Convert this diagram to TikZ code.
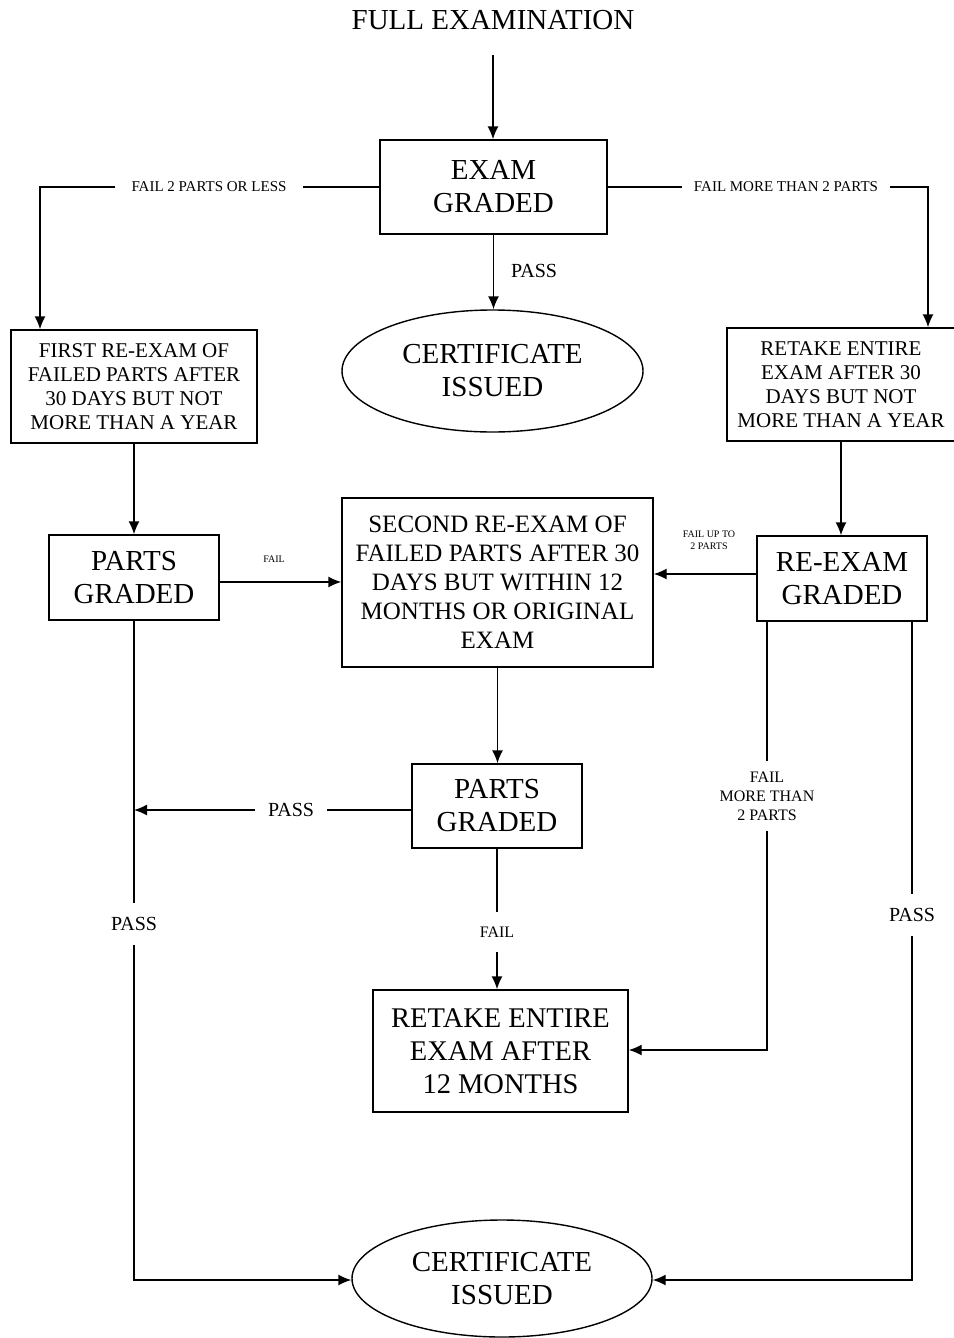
\documentclass[tikz,border=0pt]{standalone}
\usepackage{fontspec}
\setmainfont{Liberation Serif}
\usetikzlibrary{shapes.geometric,arrows.meta}
\newcommand\fsz[2]{\fontsize{#1}{#2}\selectfont}
\begin{document}
\begin{tikzpicture}[x=1pt,y=-1pt,
 box/.style={draw,line width=1.4pt,align=center,inner sep=0pt},
 ell/.style={draw,ellipse,line width=1.4pt,align=center,inner sep=0pt},
 ln/.style={line width=1.4pt},
 arr/.style={line width=1.4pt,-{Latex[length=13pt,width=11pt]}},
 lab/.style={align=center,inner sep=0pt},
 big/.style={font=\fsz{29}{33}}]
\useasboundingbox (0,0) rectangle (953,1338);

% nodes
\node[lab,font=\fsz{29}{32}] (full) at (493,20) {FULL EXAMINATION};
\node[box,big,minimum width=227pt,minimum height=94pt] (exam) at (493.5,187) {EXAM\\GRADED};
\node[ell,big,minimum width=301pt,minimum height=122pt] (cert1) at (492.5,371) {CERTIFICATE\\ISSUED};
\node[box,font=\fsz{21}{24},minimum width=246pt,minimum height=113pt] (first) at (134,386.5) {FIRST RE-EXAM OF\\FAILED PARTS AFTER\\30 DAYS BUT NOT\\MORE THAN A YEAR};
\node[box,font=\fsz{21}{24},minimum width=228pt,minimum height=113pt] (retake1) at (841,384.5) {RETAKE ENTIRE\\EXAM AFTER 30\\DAYS BUT NOT\\MORE THAN A YEAR};
\node[box,big,minimum width=170pt,minimum height=85pt] (pg1) at (134,577.5) {PARTS\\GRADED};
\node[box,font=\fsz{25}{29},minimum width=311pt,minimum height=169pt] (second) at (497.5,582.5) {SECOND RE-EXAM OF\\FAILED PARTS AFTER 30\\DAYS BUT WITHIN 12\\MONTHS OR ORIGINAL\\EXAM};
\node[box,big,minimum width=170pt,minimum height=85pt] (reg) at (842,578.5) {RE-EXAM\\GRADED};
\node[box,big,minimum width=170pt,minimum height=84pt] (pg2) at (497,806) {PARTS\\GRADED};
\node[box,font=\fsz{28.5}{33},minimum width=255pt,minimum height=122pt] (retake2) at (500.5,1051) {RETAKE ENTIRE\\EXAM AFTER\\12 MONTHS};
\node[ell,big,minimum width=300pt,minimum height=117pt] (cert2) at (502,1278.5) {CERTIFICATE\\ISSUED};

% labels
\node[lab,font=\fsz{15}{18},inner xsep=16pt] (l1) at (209,187) {FAIL 2 PARTS OR LESS};
\node[lab,font=\fsz{15}{18},inner xsep=12pt] (l2) at (786,187) {FAIL MORE THAN 2 PARTS};
\node[lab,font=\fsz{20}{24}] (l3) at (534,271) {PASS};
\node[lab,font=\fsz{10}{12}] (l4) at (274,559) {FAIL};
\node[lab,font=\fsz{10}{12}] (l5) at (709,540) {FAIL UP TO\\2 PARTS};
\node[lab,font=\fsz{20}{24},inner xsep=13pt] (l6) at (291,810) {PASS};
\node[lab,font=\fsz{20}{24},inner ysep=14pt] (l7) at (134,924) {PASS};
\node[lab,font=\fsz{16}{19},inner ysep=15pt] (l8) at (497,932) {FAIL};
\node[lab,font=\fsz{16}{19},inner ysep=10pt] (l9) at (767,796) {FAIL\\MORE THAN\\2 PARTS};
\node[lab,font=\fsz{20}{24},inner ysep=14pt] (l10) at (912,915) {PASS};

% connectors
\coordinate (top) at (493,55);
\draw[arr] (top) -- (top |- exam.north);
\coordinate (c1) at (40,187);
\draw[ln] (exam.west) -- (l1.east);
\draw[arr] (l1.west) -- (c1) -- (c1 |- first.north);
\coordinate (c2) at (928,187);
\draw[ln] (exam.east) -- (l2.west);
\draw[arr] (l2.east) -- (c2) -- (c2 |- retake1.north);
\draw[arr] (exam.south) -- (exam.south |- cert1.north);
\draw[arr] (first.south) -- (first.south |- pg1.north);
\draw[arr] ([yshift=-4.5pt]pg1.east) -- ([yshift=-4.5pt]pg1.east -| second.west);
\draw[arr] ([yshift=4.5pt]reg.west) -- ([yshift=4.5pt]reg.west -| second.east);
\draw[arr] (retake1.south) -- (retake1.south |- reg.north);
\draw[arr] (second.south) -- (second.south |- pg2.north);
\coordinate (j1) at (134,810);
\draw[ln] ([yshift=-4pt]pg2.west) -- (l6.east);
\draw[arr] (l6.west) -- (j1);
\draw[ln] (pg1.south) -- (l7.north);
\coordinate (c3) at (134,1280);
\draw[arr] (l7.south) -- (c3) -- (c3 -| cert2.west);
\draw[ln] (pg2.south) -- (l8.north);
\draw[arr] (l8.south) -- (l8.south |- retake2.north);
\draw[ln] ([xshift=-75pt]reg.south) -- (l9.north);
\coordinate (c4) at (767,1050);
\draw[arr] (l9.south) -- (c4) -- (c4 -| retake2.east);
\draw[ln] ([xshift=70pt]reg.south) -- (l10.north);
\coordinate (c5) at (912,1280);
\draw[arr] (l10.south) -- (c5) -- (c5 -| cert2.east);
\end{tikzpicture}
\end{document}
